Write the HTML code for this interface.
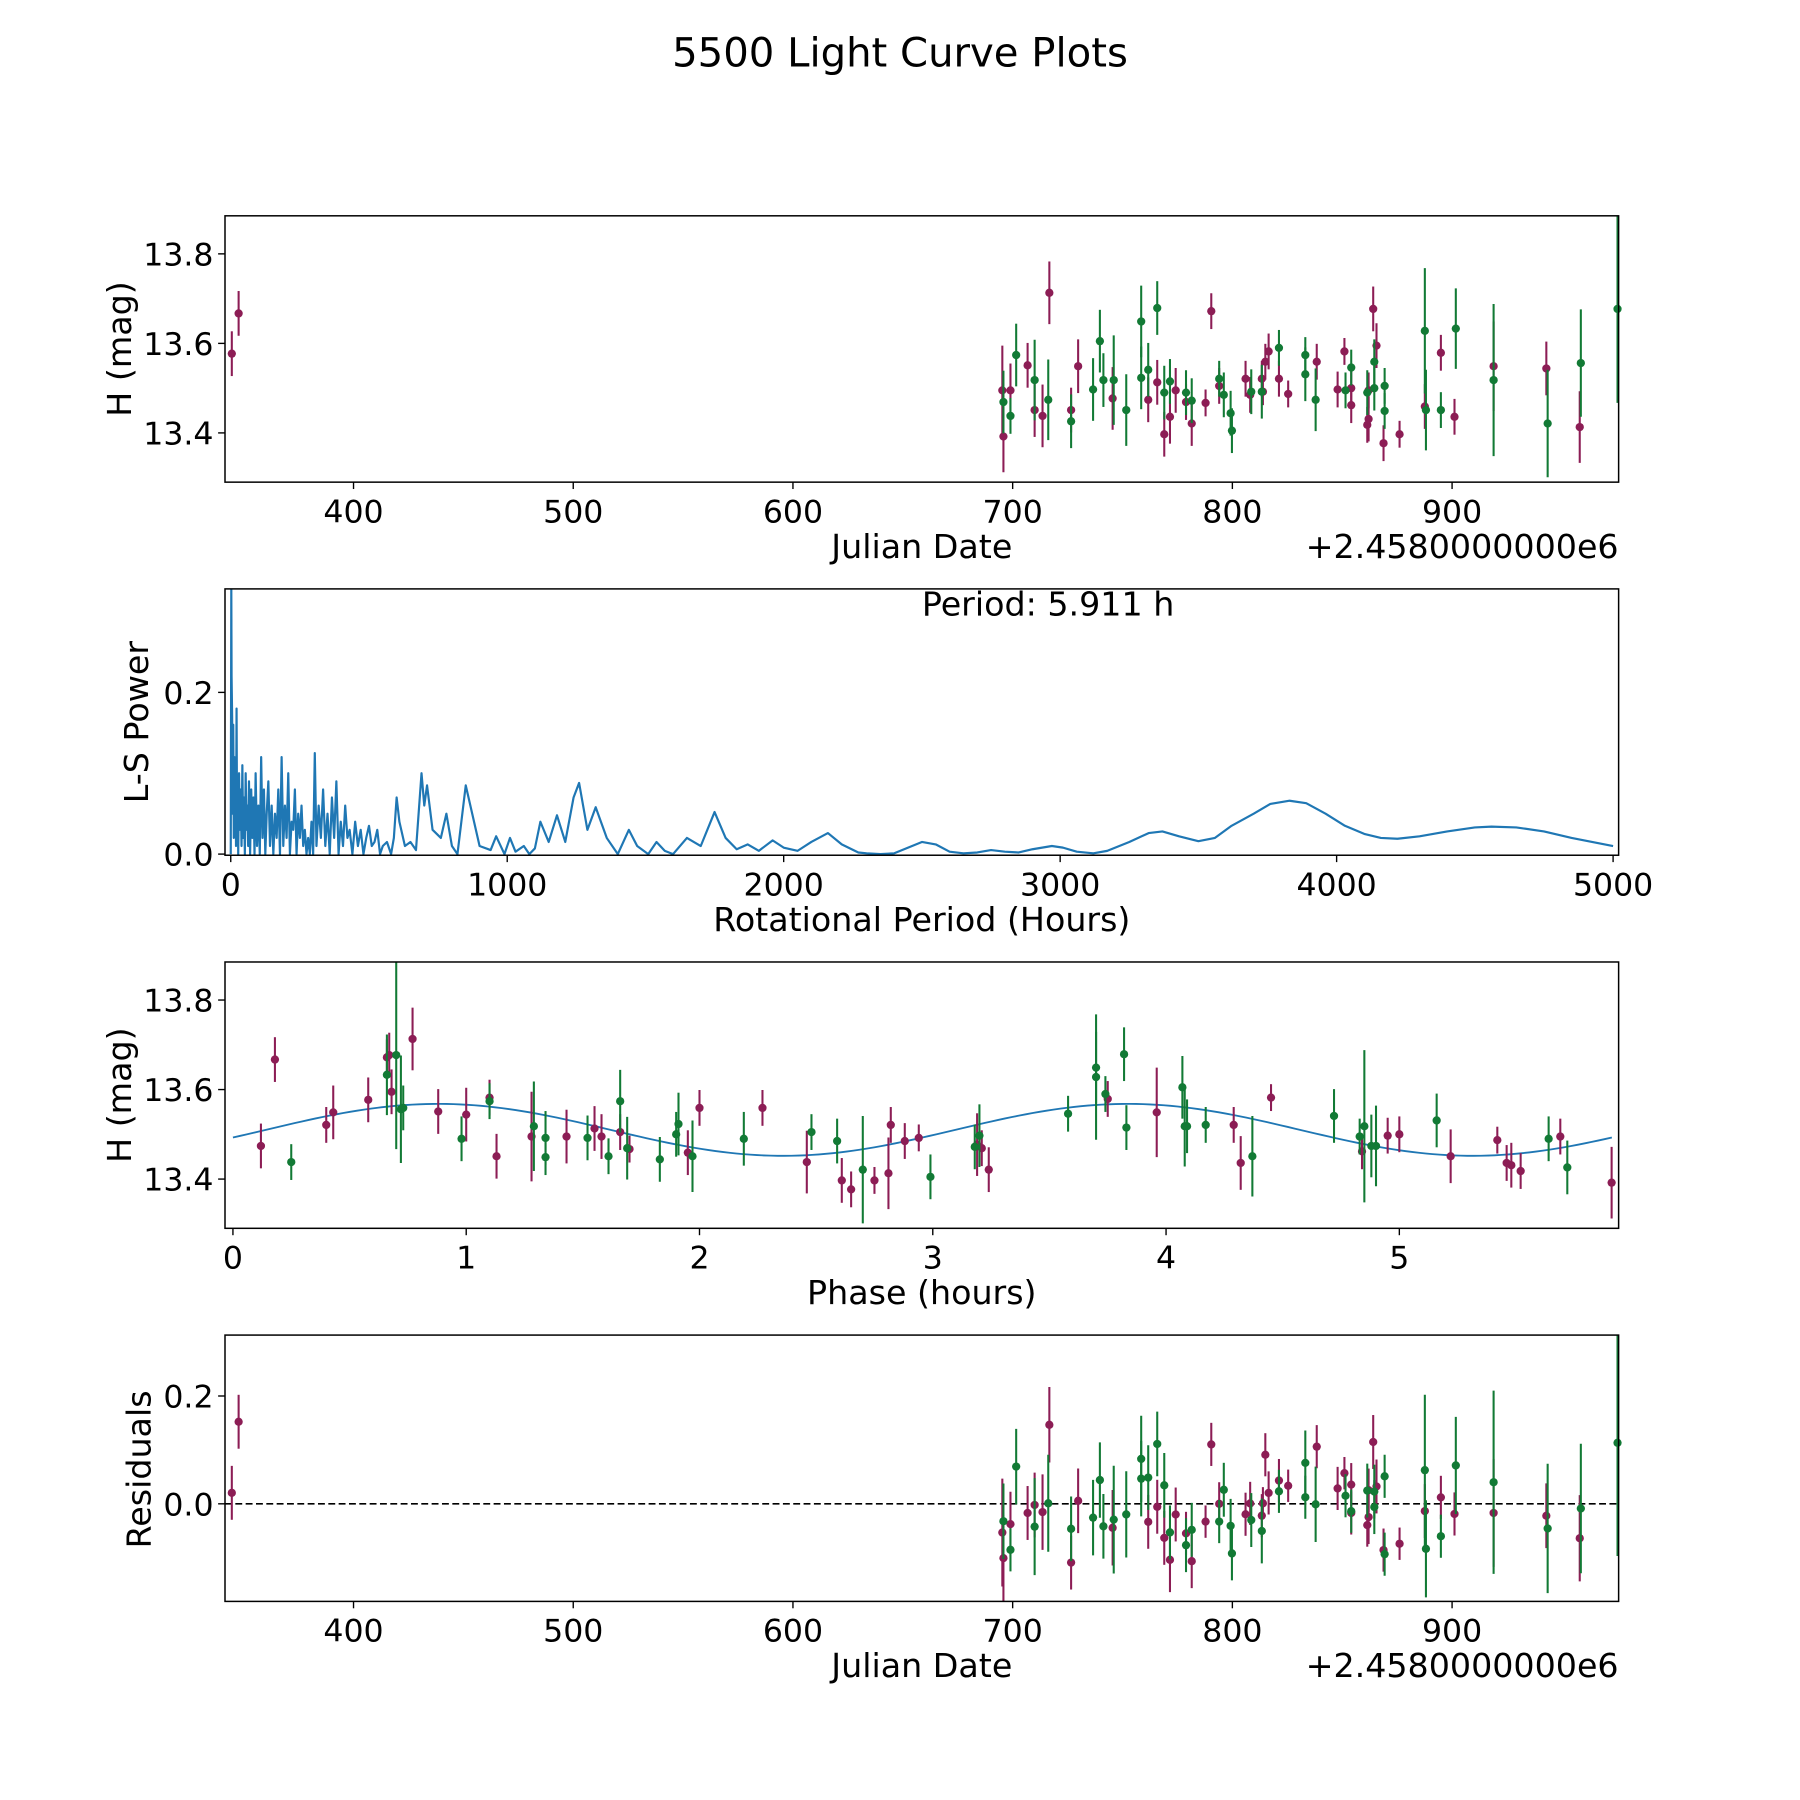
<!DOCTYPE html>
<html><head><meta charset="utf-8"><style>
html,body{margin:0;padding:0;background:#fff}
svg{display:block}
text{font-family:"DejaVu Sans","Liberation Sans",sans-serif;fill:#000}
</style></head>
<body>
<svg id="fig" width="1800" height="1800" viewBox="0 0 1568 1568" xmlns="http://www.w3.org/2000/svg">
<rect width="1568" height="1568" fill="#fff"/>
<text x="784" y="58" font-size="35" text-anchor="middle">5500 Light Curve Plots</text>
<g id="layer"></g>
</svg>
<script>
// ---- data: maroon series ----
const mJd = [344.6,347.7,695.3,695.8,699,706.8,710,713.6,716.7,726.6,729.8,745.5,761.7,765.8,769,771.6,774.2,778.9,781.5,787.8,790.4,794,806,808.1,813.4,813.9,815,816.5,821.2,825.4,838.4,847.9,851,854.1,854.1,861.4,862,862,864.1,865.6,868.8,876.1,887.6,894.9,901.1,918.9,942.9,958.1];
const mMag = [13.577,13.667,13.495,13.392,13.495,13.551,13.451,13.438,13.713,13.451,13.549,13.477,13.474,13.513,13.397,13.436,13.495,13.469,13.421,13.467,13.672,13.505,13.521,13.485,13.521,13.492,13.559,13.582,13.521,13.487,13.559,13.497,13.582,13.5,13.462,13.418,13.431,13.495,13.677,13.595,13.377,13.397,13.459,13.579,13.436,13.549,13.544,13.413];
const mErr = [0.05,0.05,0.1,0.08,0.06,0.05,0.06,0.07,0.07,0.05,0.06,0.07,0.05,0.05,0.05,0.06,0.05,0.04,0.05,0.03,0.04,0.04,0.04,0.04,0.04,0.03,0.04,0.04,0.04,0.03,0.04,0.04,0.03,0.04,0.04,0.04,0.05,0.04,0.05,0.05,0.04,0.03,0.05,0.04,0.04,0.1,0.06,0.08];
const mPhase = [0.58,0.18,1.28,5.91,1.43,0.88,5.22,2.46,0.77,1.13,0.43,3.19,0.12,1.55,2.61,4.32,1.58,3.21,3.24,1.70,0.66,1.66,0.40,2.88,4.29,2.94,2.0,1.10,2.82,5.42,2.27,4.95,4.45,5.0,4.84,5.52,5.48,5.69,0.67,0.68,2.65,2.75,1.95,3.75,5.46,3.96,1.0,2.81];
// ---- data: green series ----
const gJd = [695.8,699,701.6,710,716.2,726.6,736.6,739.7,741.3,746,751.7,758.5,758.5,761.7,765.8,769,771.6,778.9,781.5,794,796.1,799.2,799.8,808.6,813.4,821.2,833.2,833.2,837.9,851.5,854.1,861.4,864.6,864.6,869.3,869.3,887.6,888.1,894.9,901.7,918.9,943.5,958.6,975.3];
const gMag = [13.469,13.438,13.574,13.518,13.474,13.426,13.497,13.605,13.518,13.518,13.451,13.649,13.523,13.541,13.679,13.49,13.515,13.49,13.472,13.521,13.485,13.444,13.405,13.492,13.492,13.59,13.574,13.531,13.474,13.495,13.546,13.49,13.559,13.5,13.505,13.449,13.628,13.451,13.451,13.633,13.518,13.421,13.556,13.677];
const gErr = [0.07,0.04,0.07,0.09,0.09,0.06,0.07,0.07,0.06,0.1,0.08,0.08,0.07,0.06,0.06,0.06,0.05,0.05,0.05,0.04,0.05,0.05,0.05,0.05,0.06,0.04,0.04,0.06,0.07,0.04,0.04,0.05,0.05,0.05,0.04,0.04,0.14,0.09,0.04,0.09,0.17,0.12,0.12,0.21];
const gPhase = [1.69,0.25,1.66,4.08,4.9,5.72,3.20,4.07,4.09,1.29,1.97,3.70,1.91,4.72,3.82,2.19,3.83,0.98,3.18,4.17,2.59,1.83,2.99,1.52,1.34,3.74,1.10,5.16,4.88,4.83,3.58,5.64,0.73,1.90,2.48,1.34,3.70,4.37,1.61,0.66,4.85,2.70,0.72,0.70];
// ---- model fit parameters ----
const fitMean = 13.51, fitAmp = 0.058, fitPeak = 0.88, fitPeriod = 5.911;
// ---- periodogram (period hours, L-S power) ----
const lsPeriod = [0,2,3,5,7,9,11,13,15,17,19,21,23,25,27,30,33,36,39,42,45,48,51,54,57,60,63,66,70,74,78,82,86,90,95,100,105,110,115,120,125,130,136,142,148,154,160,166,172,178,184,190,196,202,208,214,220,226,232,238,244,250,256,262,268,274,280,286,292,298,304,310,318,326,334,342,350,358,366,374,382,390,398,406,414,422,430,440,450,460,470,480,490,500,510,520,530,540,550,565,580,590,600,610,630,650,670,690,700,710,730,760,780,800,820,850,870,900,940,960,990,1010,1030,1060,1080,1100,1120,1150,1180,1210,1240,1260,1290,1320,1360,1400,1440,1470,1510,1540,1570,1600,1650,1700,1750,1790,1830,1870,1910,1960,2000,2050,2100,2160,2210,2270,2300,2350,2400,2450,2500,2550,2600,2650,2700,2750,2800,2850,2900,2970,3010,3060,3120,3170,3250,3320,3370,3430,3500,3560,3620,3700,3760,3830,3890,3960,4030,4100,4160,4220,4300,4400,4500,4560,4650,4750,4850,5000];
const lsPower = [0.0,0.33,0.22,0.17,0.05,0.16,0.02,0.12,0.03,0.1,0.01,0.18,0.02,0.09,0.0,0.1,0.03,0.08,0.01,0.11,0.02,0.07,0.0,0.1,0.03,0.06,0.01,0.09,0.0,0.08,0.02,0.07,0.0,0.1,0.01,0.06,0.0,0.12,0.02,0.08,0.0,0.05,0.09,0.01,0.06,0.0,0.05,0.02,0.08,0.0,0.12,0.01,0.06,0.02,0.1,0.0,0.04,0.03,0.08,0.0,0.05,0.02,0.06,0.01,0.03,0.0,0.02,0.0,0.04,0.0,0.125,0.01,0.06,0.02,0.08,0.01,0.05,0.0,0.07,0.02,0.09,0.0,0.04,0.01,0.06,0.02,0.03,0.0,0.04,0.01,0.03,0.0,0.02,0.035,0.01,0.015,0.03,0.0,0.01,0.015,0.0,0.02,0.07,0.04,0.01,0.015,0.005,0.1,0.06,0.085,0.03,0.02,0.05,0.01,0.0,0.085,0.055,0.01,0.005,0.022,0.0,0.02,0.003,0.01,0.0,0.007,0.04,0.015,0.048,0.015,0.07,0.088,0.03,0.058,0.02,0.0,0.03,0.01,0.0,0.015,0.004,0.0,0.02,0.01,0.052,0.02,0.006,0.012,0.004,0.017,0.008,0.004,0.015,0.026,0.012,0.002,0.001,0.0,0.001,0.008,0.015,0.012,0.003,0.001,0.002,0.005,0.003,0.002,0.006,0.01,0.008,0.003,0.001,0.004,0.015,0.026,0.028,0.022,0.016,0.02,0.035,0.05,0.062,0.066,0.063,0.05,0.035,0.025,0.02,0.019,0.022,0.028,0.033,0.034,0.033,0.028,0.02,0.01];
// ---- tick labels ----
const jdTicks = [400,500,600,700,800,900];
const magTicks = [13.4,13.6,13.8];
const lsXTicks = [0,1000,2000,3000,4000,5000];
const lsYTicks = [0.0,0.2];
const phTicks = [0,1,2,3,4,5];
const resTicks = [0.0,0.2];

const NS='http://www.w3.org/2000/svg';
const layer=document.getElementById('layer');
const MAROON='#8c1d55', GREEN='#127a35', BLUE='#1f77b4';
const TICK=27.5, LAB=29;
function el(tag,attrs,parent){const e=document.createElementNS(NS,tag);for(const k in attrs)e.setAttribute(k,attrs[k]);(parent||layer).appendChild(e);return e;}
function model(p){return fitMean+fitAmp*Math.cos(2*Math.PI*(p-fitPeak)/(fitPeriod/2));}

function makeAxes(name,box,xr,yr){
  const g=el('g',{});
  
  
  const sx=v=>box.x+(v-xr[0])/(xr[1]-xr[0])*box.w;
  const sy=v=>box.y+box.h-(v-yr[0])/(yr[1]-yr[0])*box.h;
  return {g,sx,sy,box};
}
function frame(ax){
  const b=ax.box;
  const r=el('rect',{x:b.x,y:b.y,width:b.w,height:b.h,fill:'none',stroke:'#000','stroke-width':1.3},ax.g);
  
  
}
function xticks(ax,ticks,fmt){
  const b=ax.box;
  ticks.forEach(t=>{const x=ax.sx(t);
    el('line',{x1:x,y1:b.y+b.h,x2:x,y2:b.y+b.h+6,stroke:'#000','stroke-width':1.2},ax.g);
    const tx=el('text',{x:x,y:b.y+b.h+35,'font-size':TICK,'text-anchor':'middle'},ax.g);
    tx.textContent=fmt(t);
    
    
  });
}
function yticks(ax,ticks,fmt){
  const b=ax.box;
  ticks.forEach(t=>{const y=ax.sy(t);
    el('line',{x1:b.x-6,y1:y,x2:b.x,y2:y,stroke:'#000','stroke-width':1.2},ax.g);
    const tx=el('text',{x:b.x-10,y:y+10,'font-size':TICK,'text-anchor':'end'},ax.g);
    tx.textContent=fmt(t);
    
    
  });
}
function label(ax,txt,x,y,rot,anchor,nm){
  const t=el('text',{x:x,y:y,'font-size':LAB,'text-anchor':anchor||'middle'},ax.g);
  if(rot)t.setAttribute('transform','rotate(-90 '+x+' '+y+')');
  t.textContent=txt;
  
  
}
function points(ax,xs,ys,errs,color,nm){
  const g=el('g',{},ax.g);
  
  
  xs.forEach((v,i)=>{const x=ax.sx(v),y=ax.sy(ys[i]);
    const y1=Math.max(ax.box.y,ax.sy(ys[i]+errs[i])),y2=Math.min(ax.box.y+ax.box.h,ax.sy(ys[i]-errs[i]));
    const l=el('line',{x1:x,y1:y1,x2:x,y2:y2,stroke:color,'stroke-width':1.8},g);
    
    
    const c=el('circle',{cx:x,cy:y,r:3.6,fill:color},g);
    
    
  });
}
const f1=v=>v.toFixed(1), f0=v=>String(v);
const jdRange=[341.5,975.8], magRange=[13.29,13.885];

// Panel 1
const a1=makeAxes('light-curve-panel',{x:196,y:188,w:1214,h:232},jdRange,magRange);
points(a1,mJd,mMag,mErr,MAROON,'maroon-series');
points(a1,gJd,gMag,gErr,GREEN,'green-series');
frame(a1);xticks(a1,jdTicks,f0);yticks(a1,magTicks,f1);
label(a1,'Julian Date',803,486,false,'middle','x-axis-title');
label(a1,'+2.4580000000e6',1410,486,false,'end','x-offset-label');
label(a1,'H (mag)',114,304,true,'middle','y-axis-title');

// Panel 2
const a2=makeAxes('periodogram-panel',{x:196,y:513,w:1214,h:232},[-20.8,5020],[-0.0014,0.328]);
{const clip=el('clipPath',{id:'c2'},a2.g);el('rect',{x:196,y:513,width:1214,height:232},clip);
 const pts=lsPeriod.map((p,i)=>a2.sx(p).toFixed(2)+','+a2.sy(lsPower[i]).toFixed(2)).join(' ');
 const pl=el('polyline',{points:pts,fill:'none',stroke:BLUE,'stroke-width':1.9,'stroke-linejoin':'round','clip-path':'url(#c2)'},a2.g);
 
 }
frame(a2);xticks(a2,lsXTicks,f0);yticks(a2,lsYTicks,f1);
label(a2,'Period: 5.911 h',913,536,false,'middle','period-annotation');
label(a2,'Rotational Period (Hours)',803,811,false,'middle','x-axis-title');
label(a2,'L-S Power',129,629,true,'middle','y-axis-title');

// Panel 3
const a3=makeAxes('phase-panel',{x:196,y:838,w:1214,h:232},[-0.034,5.94],magRange);
{const pts=[];for(let i=0;i<=200;i++){const p=fitPeriod*i/200;pts.push(a3.sx(p).toFixed(2)+','+a3.sy(model(p)).toFixed(2));}
 const pl=el('polyline',{points:pts.join(' '),fill:'none',stroke:BLUE,'stroke-width':1.6},a3.g);
 
 }
points(a3,mPhase,mMag,mErr,MAROON,'maroon-series');
points(a3,gPhase,gMag,gErr,GREEN,'green-series');
frame(a3);xticks(a3,phTicks,f0);yticks(a3,magTicks,f1);
label(a3,'Phase (hours)',803,1136,false,'middle','x-axis-title');
label(a3,'H (mag)',114,954,true,'middle','y-axis-title');

// Panel 4
const a4=makeAxes('residuals-panel',{x:196,y:1163,w:1214,h:232},jdRange,[-0.181,0.313]);
{const z=el('line',{x1:196,y1:a4.sy(0),x2:1410,y2:a4.sy(0),stroke:'#000','stroke-width':1.4,'stroke-dasharray':'6,3'},a4.g);
 
 }
points(a4,mJd,mMag.map((m,i)=>m-model(mPhase[i])),mErr,MAROON,'maroon-residuals');
points(a4,gJd,gMag.map((m,i)=>m-model(gPhase[i])),gErr,GREEN,'green-residuals');
frame(a4);xticks(a4,jdTicks,f0);yticks(a4,resTicks,f1);
label(a4,'Julian Date',803,1461,false,'middle','x-axis-title');
label(a4,'+2.4580000000e6',1410,1461,false,'end','x-offset-label');
label(a4,'Residuals',131,1280,true,'middle','y-axis-title');
</script>
</body></html>
